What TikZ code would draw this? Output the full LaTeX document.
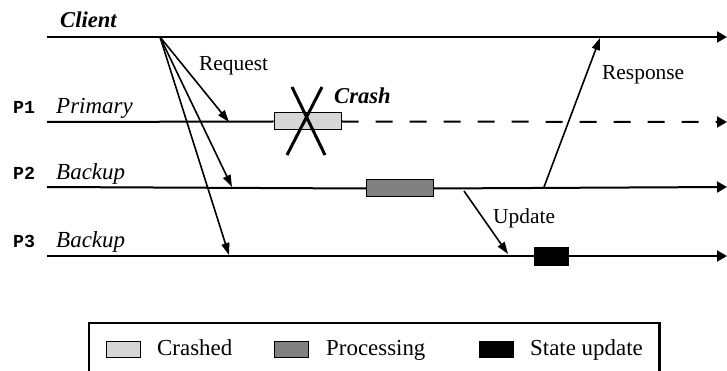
\documentclass[tikz,border=0pt]{standalone}
\usepackage{fontspec}
\setmainfont{Liberation Serif}
\setmonofont{Liberation Mono}
\usepackage{tikz}
\usetikzlibrary{arrows.meta,positioning}
\definecolor{crashc}{HTML}{D6D6D6}
\definecolor{procc}{HTML}{808080}
\definecolor{updc}{HTML}{000000}
\tikzset{
  tl/.style={-{Triangle[length=10pt,width=11pt]},line width=2pt},
  ar/.style={-{Triangle[length=12pt,width=8pt]},line width=1.6pt},
  bx/.style={draw,line width=1pt,minimum width=#1,minimum height=17pt,inner sep=0pt},
  lb/.style={font=\fontsize{21.4}{24}\selectfont,inner sep=0pt,anchor=base west},
  lg/.style={font=\fontsize{22.9}{26}\selectfont,inner sep=0pt,anchor=base west},
  bi/.style={font=\fontsize{22.6}{26}\selectfont\bfseries\itshape,inner sep=0pt,anchor=base west},
  pn/.style={font=\fontsize{18.3}{20}\selectfont\ttfamily\bfseries,inner sep=0pt,anchor=base west},
  rl/.style={font=\fontsize{23}{26}\selectfont\itshape,inner sep=0pt,anchor=base west}
}

\begin{document}
\begin{tikzpicture}[x=1pt,y=-1pt]
\useasboundingbox (0,0) rectangle (727,371);
\clip (0,0) rectangle (727,371);
% activity boxes
\node[bx=67pt,fill=crashc] (bx1) at (307.5,121.5) {};
\node[bx=67pt,fill=procc] (bx2) at (400,188.5) {};
\node[bx=34pt,minimum height=18pt,fill=updc] (bx3) at (551,256) {};
% time lines
\coordinate (c0) at (47,37); \coordinate (c1) at (727,37);
\coordinate (p1a) at (47,122); \coordinate (p1b) at (727,122);
\coordinate (p2a) at (47,187); \coordinate (p2b) at (727,187);
\coordinate (p3a) at (47,256); \coordinate (p3b) at (727,256);
\draw[tl] (c0) -- (c1);
\draw[line width=2pt] (p1a) -- (bx1.west);
\draw[tl,dash pattern=on 17pt off 17pt] (bx1.east) -- (p1b);
\draw[line width=2pt] (p2a) -- (bx2.west);
\draw[tl] (bx2.east) -- (p2b);
\draw[line width=2pt] (p3a) -- (bx3.west);
\draw[tl] (bx3.east) -- (p3b);
% crash mark
\draw[line width=3pt] (292,87) -- (325,155) (322,87) -- (287,155);
% messages
\coordinate (rq) at (160,37);
\coordinate (r1) at (229,122); \coordinate (r2) at (232,187); \coordinate (r3) at (229,255);
\draw[ar] (rq) -- (r1);
\draw[ar] (rq) -- (r2);
\draw[ar] (rq) -- (r3);
\coordinate (rs0) at (544,187); \coordinate (rs1) at (600,38);
\draw[ar] (rs0) -- (rs1);
\coordinate (up0) at (464,191); \coordinate (up1) at (508,254);
\draw[ar] (up0) -- (up1);
% labels
\node[bi] (cl) at (60,28) {Client};
\node[bi] (cr) at (334,104) {Crash};
\node[lb] (rqt) at (199,71) {Request};
\node[lb] (rst) at (602,80) {Response};
\node[lb] (upt) at (493,223) {Update};
\node[pn] (n1) at (13,114) {P1};
\node[pn] (n2) at (13,180) {P2};
\node[pn] (n3) at (13,247) {P3};
\node[rl] (ro1) at (56,114) {Primary};
\node[rl] (ro2) at (56,180) {Backup};
\node[rl] (ro3) at (56,247) {Backup};
% legend
\draw[line width=1.2pt] (89,380) -- (89,323) -- (659,323);
\draw[line width=3pt] (659,322) -- (659,380);
\node[bx=34pt,minimum height=16pt,fill=crashc] (k1) at (123,349) {};
\node[lg] (t1) at (157,355) {Crashed};
\node[bx=34pt,minimum height=16pt,fill=procc] (k2) at (291,349) {};
\node[lg] (t2) at (326,355) {Processing};
\node[bx=34pt,minimum height=16pt,fill=updc] (k3) at (496,349) {};
\node[lg] (t3) at (530,355) {State update};
\end{tikzpicture}
\end{document}
